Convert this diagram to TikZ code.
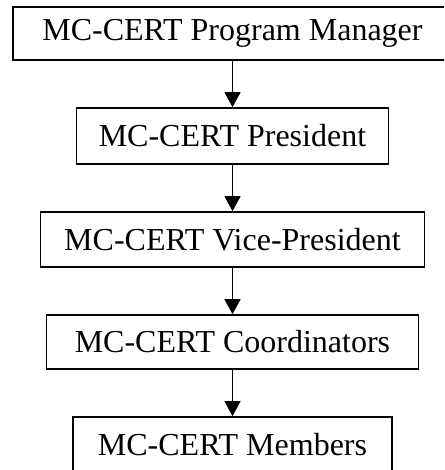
\documentclass[tikz,border=0pt]{standalone}
\usepackage{fontspec}
\setmainfont{Liberation Serif}
\usetikzlibrary{arrows.meta}
\begin{document}
\begin{tikzpicture}[x=1pt,y=-1pt,
  box/.style={draw=black, line width=1.7pt, rectangle, inner sep=0pt, anchor=center,
    font=\fontsize{32}{36}\selectfont},
  arr/.style={line width=1.4pt, -{Triangle[width=16pt,length=15pt]}}]
\useasboundingbox (0,0) rectangle (444,470);
\clip (0,0) rectangle (444,470);
\node[box, minimum width=439pt, minimum height=53pt] (b1) at (232.5,33.5) {MC-CERT Program Manager};
\node[box, minimum width=312pt, minimum height=56pt] (b2) at (232.5,136) {MC-CERT President};
\node[box, minimum width=384pt, minimum height=55pt] (b3) at (232.5,239.5) {MC-CERT Vice-President};
\node[box, minimum width=372pt, minimum height=54pt] (b4) at (232.5,342) {MC-CERT Coordinators};
\node[box, minimum width=319pt, minimum height=56pt] (b5) at (232.5,445) {MC-CERT Members};
\draw[arr] (b1.south) -- (b2.north);
\draw[arr] (b2.south) -- (b3.north);
\draw[arr] (b3.south) -- (b4.north);
\draw[arr] (b4.south) -- (b5.north);
\end{tikzpicture}
\end{document}
